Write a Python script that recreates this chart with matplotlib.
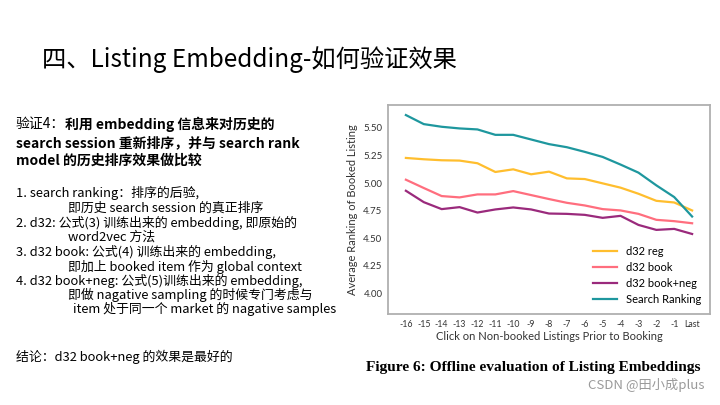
import matplotlib
matplotlib.use('Agg')
import matplotlib.pyplot as plt

CJK = ['Noto Sans CJK SC', 'DejaVu Sans']

# chart data
x_labels = ['-16', '-15', '-14', '-13', '-12', '-11', '-10', '-9', '-8',
            '-7', '-6', '-5', '-4', '-3', '-2', '-1', 'Last']
d32_reg = [5.227, 5.215, 5.206, 5.203, 5.179, 5.100, 5.124, 5.079, 5.103,
           5.042, 5.036, 4.997, 4.958, 4.903, 4.839, 4.824, 4.752]
d32_book = [5.030, 4.955, 4.882, 4.870, 4.897, 4.897, 4.927, 4.891, 4.855,
            4.821, 4.797, 4.764, 4.752, 4.721, 4.667, 4.655, 4.636]
d32_book_neg = [4.930, 4.827, 4.764, 4.782, 4.733, 4.761, 4.779, 4.761, 4.724,
                4.721, 4.712, 4.685, 4.703, 4.621, 4.576, 4.585, 4.539]
search_ranking = [5.615, 5.533, 5.509, 5.494, 5.485, 5.436, 5.436, 5.394, 5.352,
                  5.324, 5.282, 5.236, 5.167, 5.094, 4.979, 4.873, 4.697]
y_ticks = [4.00, 4.25, 4.50, 4.75, 5.00, 5.25, 5.50]

series = [('d32 reg', d32_reg, '#FFBE2E'),
          ('d32 book', d32_book, '#FF6E7E'),
          ('d32 book+neg', d32_book_neg, '#9A2A7C'),
          ('Search Ranking', search_ranking, '#1E979E')]

fig = plt.figure(figsize=(7.2, 4.05), dpi=100)

# slide title
fig.text(42/720, 1 - 60/405, '四、Listing Embedding-如何验证效果', family=CJK,
         fontsize=17.5, fontweight='light', va='center', ha='left')

# heading, first part regular then bold
t = fig.text(16/720, 1 - 124/405, '验证4：', family=CJK, fontsize=10, va='center')
fig.canvas.draw()
bb = t.get_window_extent()
fig.text(bb.x1/720, 1 - 124/405, '利用 embedding 信息来对历史的', family=CJK,
         fontsize=10, fontweight='bold', va='center')
fig.text(16/720, 1 - 143/405, 'search session 重新排序，并与 search rank', family=CJK,
         fontsize=10, fontweight='bold', va='center')
fig.text(16/720, 1 - 161/405, 'model 的历史排序效果做比较', family=CJK,
         fontsize=10, fontweight='bold', va='center')

notes = [
    (16, 193, '1. search ranking：排序的后验,'),
    (68, 208, '即历史 search session 的真正排序'),
    (16, 223, '2. d32: 公式(3) 训练出来的 embedding, 即原始的'),
    (68, 237, 'word2vec 方法'),
    (16, 252, '3. d32 book: 公式(4) 训练出来的 embedding,'),
    (68, 267, '即加上 booked item 作为 global context'),
    (16, 281, '4. d32 book+neg: 公式(5)训练出来的 embedding,'),
    (68, 295, '即做 nagative sampling 的时候专门考虑与'),
    (73, 309, 'item 处于同一个 market 的 nagative samples'),
    (16, 357, '结论：d32 book+neg 的效果是最好的'),
]
for x, y, s in notes:
    fig.text(x/720, 1 - y/405, s, family=CJK, fontsize=9.3, va='center')

# chart
ax = fig.add_axes([388/720, 1 - 314/405, 322/720, 209/405])
xs = range(len(x_labels))
for name, vals, col in series:
    ax.plot(xs, vals, color=col, lw=1.6, label=name)

ax.set_xlim(-1, 17)
ax.set_ylim(3.815, 5.706)
ax.set_xticks(list(xs))
ax.set_xticklabels(x_labels, fontsize=6.3, family='Lato', color='#333333')
ax.set_yticks(y_ticks)
ax.set_yticklabels(['%.2f' % v for v in y_ticks], fontsize=7, family='Lato', color='#333333')
ax.tick_params(length=0, pad=4)
for sp in ax.spines.values():
    sp.set_color('#b0b0b0')
    sp.set_linewidth(1.3)
ax.set_ylabel('Average Ranking of Booked Listing', fontsize=8, family='Lato', color='#333333', labelpad=4)
ax.set_xlabel('Click on Non-booked Listings Prior to Booking', fontsize=8, family='Lato', color='#333333', labelpad=2)
ax.legend(loc='lower right', frameon=False, prop={'family': 'Lato', 'size': 8},
          handlelength=2.2, labelspacing=0.45, borderaxespad=0.4)

fig.text(533/720, 1 - 367/405, 'Figure 6: Offline evaluation of Listing Embeddings',
         family='Liberation Serif', fontweight='bold', fontsize=11.1, ha='center', va='center')
fig.text(705/720, 1 - 385/405, 'CSDN @田小成plus', family=CJK, fontsize=9.5,
         color='#9a9a9a', ha='right', va='center')

fig.savefig('out.png', dpi=100)
